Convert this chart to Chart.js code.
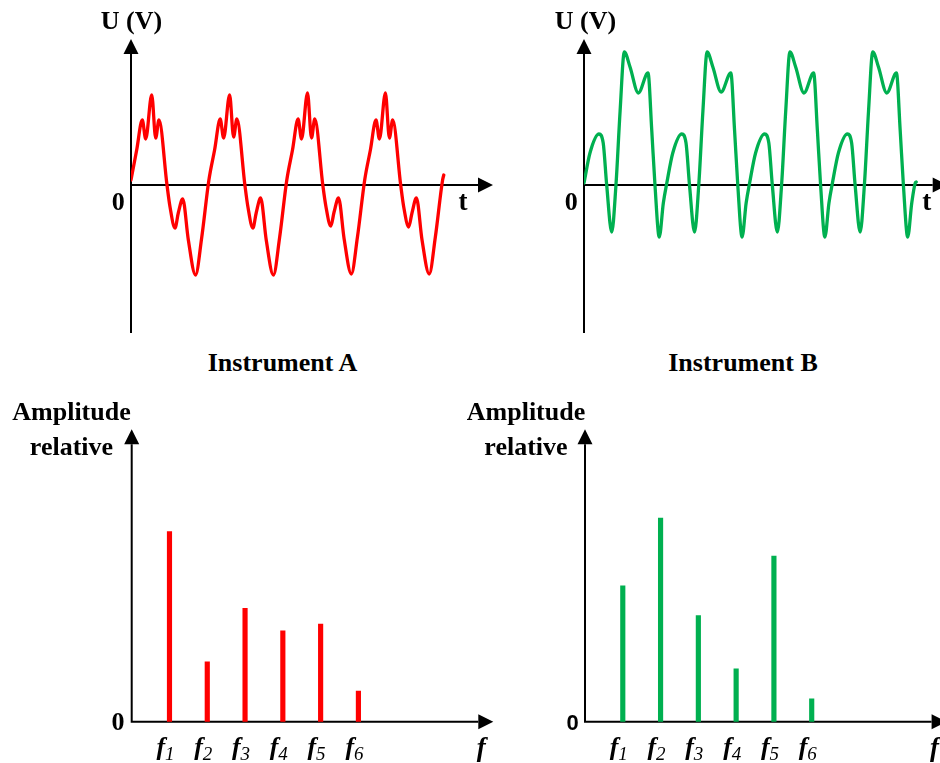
<!DOCTYPE html>
<html>
<head>
<meta charset="utf-8">
<title>Instrument A / Instrument B</title>
<script src="https://cdn.jsdelivr.net/npm/chart.js@4.4.1/dist/chart.umd.min.js"></script>
<style>
  html, body { margin: 0; padding: 0; overflow: hidden; background: #fff; }
  body { position: relative; width: 940px; height: 763px; font-family: "Liberation Serif", "Times New Roman", serif; }
  canvas { position: absolute; }
  .lbl { position: absolute; font-weight: bold; font-size: 26px; line-height: 26px; color: #000; white-space: nowrap; transform: translateX(-50%); text-align: center; }
  .amp { line-height: 35px; }
</style>
</head>
<body>

<canvas id="waveA" width="420" height="320" style="left:90px;top:25px"></canvas>
<canvas id="waveB" width="420" height="320" style="left:545px;top:25px"></canvas>
<canvas id="specA" width="420" height="348" style="left:90px;top:415px"></canvas>
<canvas id="specB" width="420" height="348" style="left:545px;top:415px"></canvas>

<div class="lbl" style="left:131.5px;top:8px">U (V)</div>
<div class="lbl" style="left:585.5px;top:8px">U (V)</div>
<div class="lbl" style="left:282.5px;top:350px">Instrument A</div>
<div class="lbl" style="left:743px;top:350px">Instrument B</div>
<div class="lbl amp" style="left:71.5px;top:394px">Amplitude<br>relative</div>
<div class="lbl amp" style="left:526px;top:394px">Amplitude<br>relative</div>

<script>
// time in periods, U in arbitrary units
const tA = [
  0.000, 0.073, 0.145, 0.189, 0.266, 0.317, 0.359, 0.462, 0.501, 0.565, 0.607, 0.664, 0.736, 0.828, 0.907,
  1.000, 1.073, 1.145, 1.189, 1.266, 1.317, 1.359, 1.462, 1.501, 1.565, 1.607, 1.664, 1.736, 1.828, 1.907,
  2.000, 2.073, 2.145, 2.189, 2.266, 2.317, 2.359, 2.462, 2.501, 2.565, 2.607, 2.664, 2.736, 2.828, 2.907,
  3.000, 3.073, 3.145, 3.189, 3.266, 3.317, 3.359, 3.462, 3.501, 3.565, 3.607, 3.664, 3.736, 3.828, 3.907,
  4.000, 4.015
];
const uA = [
  0.5, 3.5, 6.5, 4.6, 9.0, 4.7, 6.5, 0.0, -2.2, -4.3, -2.8, -1.4, -5.5, -9.0, -5.3,
  0.5, 3.5, 6.6, 4.7, 9.0, 4.8, 6.6, 0.0, -2.2, -4.3, -2.8, -1.3, -5.5, -9.0, -5.3,
  0.5, 3.5, 6.6, 4.6, 9.2, 4.7, 6.6, 0.0, -2.1, -4.1, -2.7, -1.3, -5.4, -8.9, -5.2,
  0.5, 3.5, 6.5, 4.6, 9.2, 4.7, 6.5, 0.0, -2.2, -4.2, -2.8, -1.3, -5.5, -8.9, -5.2,
  0.5, 1.0
];

const tB = [
  0.000, 0.072, 0.181, 0.232, 0.274, 0.335, 0.386, 0.436, 0.487, 0.556, 0.656, 0.773, 0.818, 0.857, 0.909, 0.958,
  1.000, 1.072, 1.181, 1.232, 1.274, 1.335, 1.386, 1.436, 1.487, 1.556, 1.656, 1.773, 1.818, 1.857, 1.909, 1.958,
  2.000, 2.072, 2.181, 2.232, 2.274, 2.335, 2.386, 2.436, 2.487, 2.556, 2.656, 2.773, 2.818, 2.857, 2.909, 2.958,
  3.000, 3.072, 3.181, 3.232, 3.274, 3.335, 3.386, 3.436, 3.487, 3.556, 3.656, 3.773, 3.818, 3.857, 3.909, 3.958,
  4.000, 4.012
];
const uB = [
  0.2, 3.2, 5.1, 4.2, 0.0, -4.7, 0.0, 7.4, 13.3, 11.8, 9.2, 11.2, 5.5, 0.0, -5.2, -1.8,
  0.2, 3.2, 5.1, 4.2, 0.0, -4.7, 0.0, 7.4, 13.3, 11.8, 9.3, 11.2, 5.5, 0.0, -5.2, -1.8,
  0.2, 3.2, 5.1, 4.2, 0.0, -4.7, 0.0, 7.4, 13.3, 11.8, 9.2, 11.2, 5.5, 0.0, -5.2, -1.8,
  0.2, 3.2, 5.1, 4.2, 0.0, -4.7, 0.0, 7.4, 13.3, 11.8, 9.2, 11.2, 5.5, 0.0, -5.2, -1.8,
  0.2, 0.3
];

// harmonics f1..f6
const harmonics = [1, 2, 3, 4, 5, 6];
const harmonicSubs = ["1", "2", "3", "4", "5", "6"];
const ampA = [6.5, 2.05, 3.88, 3.11, 3.34, 1.05];
const ampB = [4.65, 6.96, 3.63, 1.81, 5.66, 0.78];

const RED = "#ff0000";
const GREEN = "#00b050";

// black axes with arrow heads, "0", axis letter and f_k labels
const axesArrows = {
  id: "axesArrows",
  beforeDatasetsDraw(chart, args, o) {
    const { ctx, chartArea: a, scales: { x, y } } = chart;
    const x0 = x.getPixelForValue(0), y0 = y.getPixelForValue(0);
    const head = 15, half = 7.5;
    ctx.save();
    ctx.strokeStyle = "#000";
    ctx.fillStyle = "#000";
    ctx.lineWidth = 2;
    ctx.beginPath();
    ctx.moveTo(x0, a.bottom); ctx.lineTo(x0, a.top + head);
    ctx.moveTo(x0 - 1, y0); ctx.lineTo(a.right - head, y0);
    ctx.stroke();
    ctx.beginPath();
    ctx.moveTo(x0, a.top); ctx.lineTo(x0 - half, a.top + head); ctx.lineTo(x0 + half, a.top + head); ctx.closePath();
    ctx.moveTo(a.right, y0); ctx.lineTo(a.right - head, y0 - half); ctx.lineTo(a.right - head, y0 + half); ctx.closePath();
    ctx.fill();

    ctx.textBaseline = "alphabetic";
    ctx.textAlign = "center";
    ctx.font = o.zeroFont;
    ctx.fillText("0", x0 + o.zeroDx, y0 + o.zeroDy);
    ctx.font = o.varFont;
    ctx.fillText(o.varText, a.right + o.varDx, y0 + o.varDy);

    if (o.harmonicTicks) {
      ctx.textAlign = "left";
      harmonics.forEach((k, i) => {
        const px = x.getPixelForValue(k);
        ctx.font = 'bold italic 26px "Liberation Serif"';
        ctx.fillText("f", px - 13, y0 + 33.5);
        ctx.font = 'italic 19px "Liberation Serif"';
        ctx.fillText(harmonicSubs[i], px - 4.5, y0 + 38);
      });
    }
    ctx.restore();
  }
};

function waveChart(id, t, u, color, xMax, pad, plug) {
  return new Chart(document.getElementById(id), {
    type: "line",
    data: {
      datasets: [{
        data: t.map((v, i) => ({ x: v, y: u[i] })),
        borderColor: color,
        borderWidth: 3.3,
        pointRadius: 0,
        fill: false,
        cubicInterpolationMode: "monotone",
        borderCapStyle: "round",
        borderJoinStyle: "round"
      }]
    },
    options: {
      responsive: false,
      animation: false,
      events: [],
      layout: { padding: pad },
      plugins: { legend: { display: false }, tooltip: { enabled: false }, axesArrows: plug },
      scales: {
        x: { type: "linear", min: 0, max: xMax, display: false },
        y: { type: "linear", min: -14.8, max: 14.6, display: false }
      }
    },
    plugins: [axesArrows]
  });
}

function specChart(id, amp, color, pad, plug) {
  return new Chart(document.getElementById(id), {
    type: "bar",
    data: {
      datasets: [{
        data: harmonics.map((k, i) => ({ x: k, y: amp[i] })),
        backgroundColor: color,
        borderWidth: 0,
        barThickness: 4.5
      }]
    },
    options: {
      responsive: false,
      animation: false,
      events: [],
      layout: { padding: pad },
      plugins: { legend: { display: false }, tooltip: { enabled: false }, axesArrows: plug },
      scales: {
        x: { type: "linear", min: 0, max: 9.57, offset: false, display: false },
        y: { type: "linear", min: 0, max: 10, display: false }
      }
    },
    plugins: [axesArrows]
  });
}

const serifBold = 'bold 26px "Liberation Serif"';

waveChart("waveA", tA, uA, RED, 4.647,
  { left: 41, top: 14, right: 17, bottom: 12 },
  { zeroFont: serifBold, zeroDx: -12.7, zeroDy: 24.5, varFont: 'bold 27px "Liberation Serif"', varText: "t", varDx: -30, varDy: 24.5 });

waveChart("waveB", tB, uB, GREEN, 4.392,
  { left: 39, top: 14, right: 17.3, bottom: 12 },
  { zeroFont: serifBold, zeroDx: -12.7, zeroDy: 24.5, varFont: 'bold 27px "Liberation Serif"', varText: "t", varDx: -21, varDy: 24.5 });

specChart("specA", ampA, RED,
  { left: 41.7, top: 14.3, right: 16.7, bottom: 41.3 },
  { zeroFont: serifBold, zeroDx: -13.7, zeroDy: 8.5, varFont: 'bold italic 27px "Liberation Serif"', varText: "f", varDx: -12, varDy: 34, harmonicTicks: true });

specChart("specB", ampB, GREEN,
  { left: 40, top: 14.3, right: 18.4, bottom: 41.3 },
  { zeroFont: 'bold 22px "Liberation Sans"', zeroDx: -12.5, zeroDy: 8, varFont: 'bold italic 27px "Liberation Serif"', varText: "f", varDx: -12, varDy: 34, harmonicTicks: true });
</script>
</body>
</html>
